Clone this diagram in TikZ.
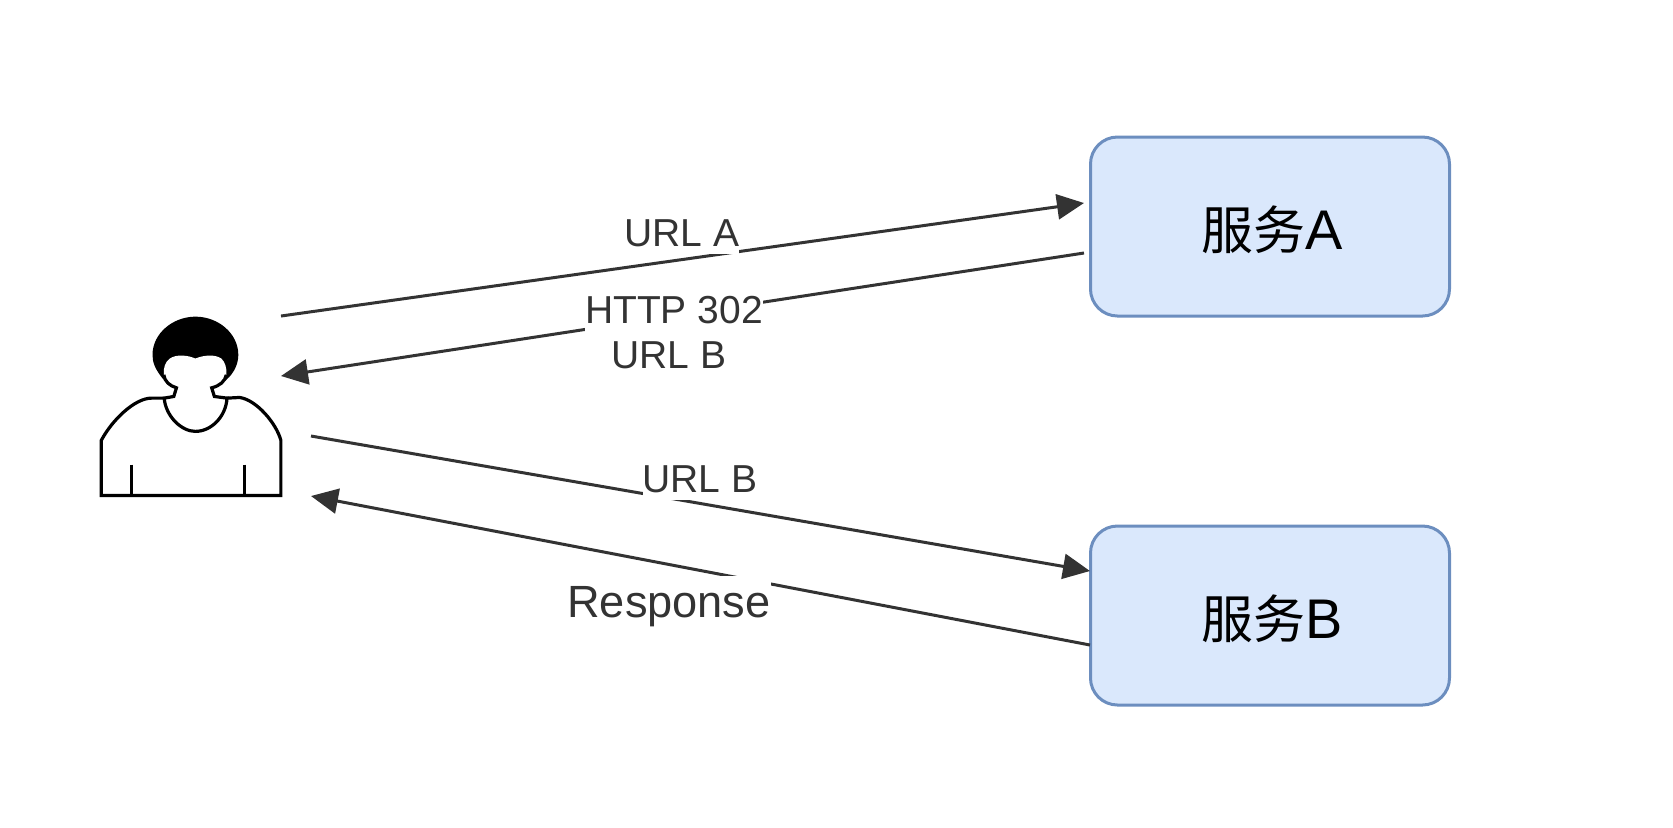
\documentclass[tikz,border=0pt]{standalone}
\usepackage{fontspec}
\setmainfont{Liberation Sans}
\newfontfamily\cjk[Scale=0.93]{Noto Sans CJK SC}
\usetikzlibrary{arrows.meta}
\definecolor{boxfill}{HTML}{DAE8FC}
\definecolor{boxline}{HTML}{6C8EBF}
\definecolor{inkgray}{HTML}{333333}

\begin{document}
\begin{tikzpicture}[
    service/.style={draw=boxline, fill=boxfill, line width=0.03cm, rounded corners=0.27cm, minimum width=3.59cm, minimum height=1.79cm, inner sep=0pt, text height=0.5cm, text depth=0.05cm, font=\fontsize{15.9}{19}\selectfont},
    flow/.style={draw=inkgray, line width=0.03cm, -{Triangle[length=0.27cm,width=0.25cm,color=inkgray]}},
    flowlabel/.style={fill=white, text=inkgray, inner sep=0pt, anchor=base, text height=0.35cm, text depth=0.08cm, font=\fontsize{11.1}{12.8}\selectfont},
    person/.style={line width=0.032cm, line join=miter}]
    \useasboundingbox (0,0) rectangle (16.73,-8.27);
    % Services
    \node[service] (svcA) at (12.70,-2.265) {\kern0.05cm{\cjk 服务}A};
    \node[service] (svcB) at (12.70,-6.155) {\kern0.05cm{\cjk 服务}B};

    % Free ends of the connectors
    \coordinate (userOutA) at (2.81,-3.16);
    \coordinate (userInA) at (2.81,-3.76);
    \coordinate (userOutB) at (3.11,-4.36);
    \coordinate (userInB) at (3.11,-4.96);
    \coordinate (svcAIn) at (10.84,-2.03);
    \coordinate (svcAOut) at (10.84,-2.53);
    \coordinate (svcBIn) at (10.9,-5.71);
    \coordinate (svcBOut) at (10.9,-6.45);

    % Connectors
    \draw[flow] (userOutA) -- (svcAIn);
    \draw[flow] (svcAOut) -- (userInA);
    \draw[flow] (userOutB) -- (svcBIn);
    \draw[flow] (svcBOut) -- (userInB);

    % Labels
    \node[flowlabel] (lblUrlA) at (6.82,-2.46) {URL A};
    \node[flowlabel, align=center, anchor=center, text height=, text depth=] (lblRedirect) at (6.74,-3.33) {HTTP 302\\URL B\kern0.1cm};
    \node[flowlabel] (lblUrlB) at (7.0,-4.92) {URL B};
    \node[flowlabel, text height=0.41cm, text depth=0.1cm, font=\fontsize{12.85}{14.8}\selectfont] (lblResponse) at (6.69,-6.17) {Response};

    % User
    \begin{scope}[shift={(0.8,-3)}, x=0.003333cm, y=-0.003333cm]
        \fill (250,238) .. controls (226,208) and (218,188) .. (218,165)
            .. controls (218,100) and (280,50) .. (347,50)
            .. controls (415,50) and (476,100) .. (476,165)
            .. controls (476,190) and (465,218) .. (440,240) -- cycle;
        \fill[white] (347,176) .. controls (325,166) and (290,162) .. (270,176)
            .. controls (256,186) and (250,205) .. (252,225)
            .. controls (254,245) and (270,258) .. (290,264) -- (282,290) -- (253,295)
            -- (442,295) -- (404,290) -- (396,264)
            .. controls (420,258) and (436,245) .. (440,225)
            .. controls (442,205) and (436,186) .. (425,176)
            .. controls (405,162) and (370,166) .. (347,176) -- cycle;
        \draw[person] (252,225) .. controls (254,245) and (270,258) .. (290,264) -- (282,290) -- (253,295)
            .. controls (258,350) and (305,395) .. (347,395)
            .. controls (395,395) and (439,350) .. (442,295)
            -- (404,290) -- (396,264) .. controls (420,258) and (436,245) .. (440,225);
        \draw[person] (253,295) -- (215,295) .. controls (165,295) and (97,360) .. (64,422)
            -- (64,588) -- (604,588) -- (604,422)
            .. controls (590,370) and (530,300) .. (480,293) -- (442,295);
        \draw[person] (155,495) -- (155,588);
        \draw[person] (494,495) -- (494,588);
    \end{scope}
\end{tikzpicture}
\end{document}
